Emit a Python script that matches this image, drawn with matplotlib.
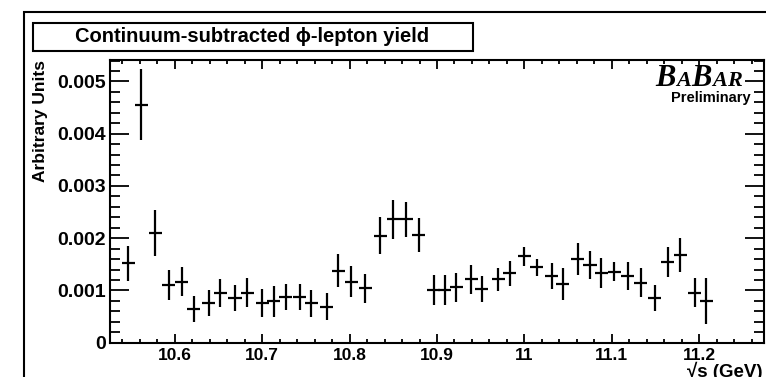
import numpy as np
import matplotlib.pyplot as plt
from matplotlib.patches import Rectangle
from matplotlib.ticker import MultipleLocator, FuncFormatter

# sqrt(s) scan points (GeV), yield and errors (arbitrary units, x1e-3)
energy = [10.547, 10.562, 10.578, 10.593, 10.608, 10.622, 10.639, 10.652, 10.669, 10.683,
          10.700, 10.713, 10.727, 10.743, 10.756, 10.774, 10.787, 10.802, 10.818, 10.835,
          10.850, 10.865, 10.879, 10.896, 10.909, 10.922, 10.939, 10.951, 10.970, 10.983,
          11.000, 11.014, 11.031, 11.044, 11.061, 11.075, 11.088, 11.103, 11.118, 11.133,
          11.149, 11.164, 11.178, 11.195, 11.208]
yield_e3 = [1.52, 4.55, 2.10, 1.105, 1.17, 0.64, 0.755, 0.95, 0.85, 0.96,
            0.755, 0.79, 0.87, 0.87, 0.755, 0.69, 1.38, 1.17, 1.04, 2.05,
            2.36, 2.36, 2.06, 1.01, 1.01, 1.06, 1.21, 1.03, 1.21, 1.33,
            1.65, 1.44, 1.28, 1.12, 1.60, 1.49, 1.33, 1.36, 1.28, 1.15,
            0.85, 1.55, 1.68, 0.96, 0.79]
err_e3 = [0.33, 0.68, 0.44, 0.29, 0.27, 0.25, 0.25, 0.27, 0.25, 0.27,
          0.27, 0.30, 0.25, 0.25, 0.26, 0.26, 0.31, 0.29, 0.28, 0.36,
          0.38, 0.33, 0.32, 0.28, 0.28, 0.28, 0.28, 0.25, 0.22, 0.24,
          0.18, 0.17, 0.25, 0.31, 0.30, 0.27, 0.29, 0.18, 0.27, 0.27,
          0.25, 0.29, 0.32, 0.27, 0.44]
half_bin = 0.0075

W, H = 766, 377
fig = plt.figure(figsize=(W / 100, H / 100), dpi=100)


def fx(px):
    return px / W


def fy(py):
    return 1 - py / H


font = 'Liberation Sans'

# outer canvas frame
fig.add_artist(Rectangle((fx(24), fy(420)), fx(800), fy(12) - fy(420),
                         transform=fig.transFigure, fill=False, lw=1.5, ec='black'))

ax = fig.add_axes([fx(110), fy(342.7), fx(764) - fx(110), fy(60) - fy(342.7)])

y = np.array(yield_e3) * 1e-3
yerr = np.array(err_e3) * 1e-3
ax.errorbar(energy, y, yerr=yerr, xerr=half_bin, fmt='none', ecolor='black', elinewidth=1.6, capsize=0)

ax.set_xlim(10.526, 11.274)
ax.set_ylim(0, 0.00541)

ax.xaxis.set_major_locator(MultipleLocator(0.1))
ax.xaxis.set_minor_locator(MultipleLocator(0.02))
ax.yaxis.set_major_locator(MultipleLocator(0.001))
ax.yaxis.set_minor_locator(MultipleLocator(0.0002))
ax.xaxis.set_major_formatter(FuncFormatter(lambda v, p: '11' if abs(v - 11) < 1e-6 else f'{v:.1f}'))
ax.yaxis.set_major_formatter(FuncFormatter(lambda v, p: '0' if abs(v) < 1e-9 else f'{v:.3f}'))

for sp in ax.spines.values():
    sp.set_linewidth(1.5)
ax.tick_params(axis='x', which='major', direction='in', top=True, length=6.2, width=1.3, pad=4)
ax.tick_params(axis='x', which='minor', direction='in', top=True, length=3.1, width=1.3)
ax.tick_params(axis='y', which='major', direction='in', right=True, length=14, width=1.3, pad=3)
ax.tick_params(axis='y', which='minor', direction='in', right=True, length=7, width=1.3)
for lab in ax.get_xticklabels():
    lab.set_fontfamily(font)
    lab.set_fontweight('bold')
    lab.set_fontsize(12.5)
for lab in ax.get_yticklabels():
    lab.set_fontfamily(font)
    lab.set_fontweight('bold')
    lab.set_fontsize(14)

# title box
fig.add_artist(Rectangle((fx(33), fy(50.7)), fx(473) - fx(33), fy(22.7) - fy(50.7),
                         transform=fig.transFigure, fill=False, lw=1.5, ec='black'))
fig.text(fx(252), fy(37), 'Continuum-subtracted \u03d5-lepton yield', ha='center', va='center',
         family=font, fontweight='bold', fontsize=14.5)

# axis titles
fig.text(fx(41), fy(60), 'Arbitrary Units', rotation=90, ha='center', va='top',
         family=font, fontweight='bold', fontsize=12.5)
fig.text(fx(687), fy(371), '\u221as (GeV)', ha='left', va='center',
         family=font, fontweight='bold', fontsize=13.5)

# BABAR logo, letters placed one after another
serif = 'Liberation Serif'
renderer = fig.canvas.get_renderer()
pos = 655
for ch, sz in [('B', 22), ('A', 16), ('B', 22), ('A', 16), ('R', 16)]:
    t = fig.text(fx(pos), fy(86), ch, ha='left', va='baseline', family=serif,
                 fontweight='bold', style='italic', fontsize=sz)
    pos = t.get_window_extent(renderer).x1 + 0.5
fig.text(fx(751), fy(98), 'Preliminary', ha='right', va='center',
         family=font, fontweight='bold', fontsize=10.5)

fig.savefig('out.png', dpi=100)
